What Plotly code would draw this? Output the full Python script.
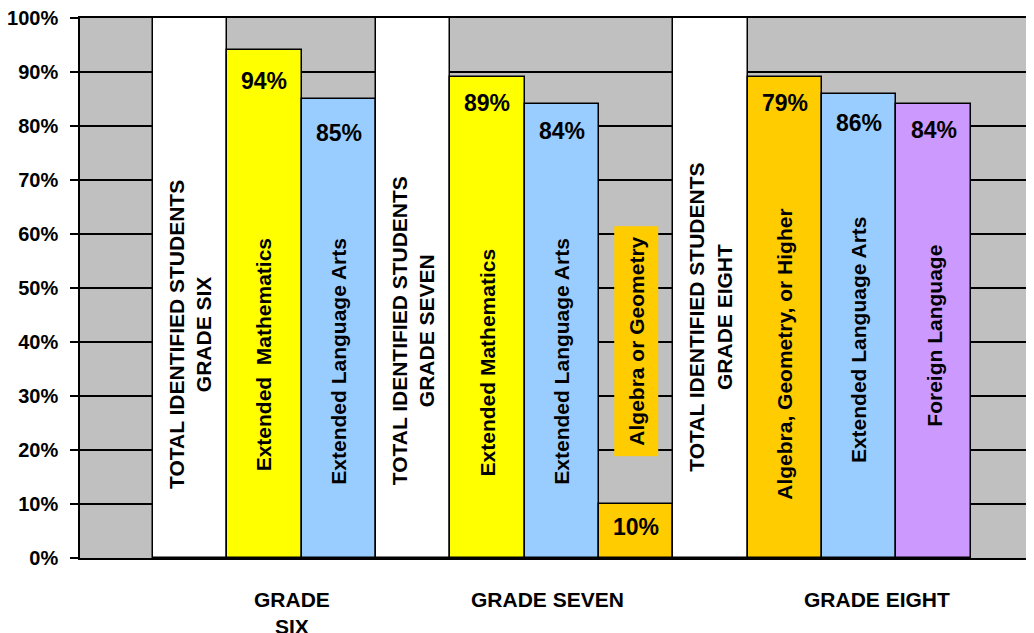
import plotly.graph_objects as go

# ---- data ----
bar_names = [
    "TOTAL IDENTIFIED STUDENTS<br>GRADE SIX",
    "Extended  Mathematics",
    "Extended Language Arts",
    "TOTAL IDENTIFIED STUDENTS<br>GRADE SEVEN",
    "Extended Mathematics",
    "Extended Language Arts",
    "Algebra or Geometry",
    "TOTAL IDENTIFIED STUDENTS<br>GRADE EIGHT",
    "Algebra, Geometry, or Higher",
    "Extended Language Arts",
    "Foreign Language",
]
bar_values = [100, 94, 85, 100, 89, 84, 10, 100, 89, 86, 84]
value_labels = ["", "94%", "85%", "", "89%", "84%", "10%", "", "79%", "86%", "84%"]
grade_labels = ["GRADE<br>SIX", "GRADE SEVEN", "GRADE EIGHT"]
y_ticks = [0, 10, 20, 30, 40, 50, 60, 70, 80, 90, 100]
y_tick_text = ["0%", "10%", "20%", "30%", "40%", "50%", "60%", "70%", "80%", "90%", "100%"]

# ---- style ----
bar_colors = ["#FFFFFF", "#FFFF00", "#99CCFF", "#FFFFFF", "#FFFF00", "#99CCFF",
              "#FFCC00", "#FFFFFF", "#FFCC00", "#99CCFF", "#CC99FF"]
name_y = [41.3, 37.6, 36.5, 42.0, 36.3, 36.5, 40.1, 44.6, 37.8, 40.4, 41.1]
label_shift = [0, -31, -34, 0, -26, -27, -23, 0, -26, -29, -26]
grade_x = [2.37, 5.81, 10.24]
FONT = "Liberation Sans, Arial, sans-serif"

xs = list(range(1, len(bar_values) + 1))

fig = go.Figure()
fig.add_trace(go.Bar(
    x=xs, y=bar_values, width=1,
    marker=dict(color=bar_colors, line=dict(color="black", width=1.5)),
    hoverinfo="skip", showlegend=False,
))

annotations = []
for i, (x, name) in enumerate(zip(xs, bar_names)):
    ann = dict(x=x, y=name_y[i], xref="x", yref="y", text=name, showarrow=False,
               textangle=-90, xanchor="center", yanchor="middle", align="center",
               font=dict(family=FONT, size=21, color="black", weight="bold"))
    if bar_values[i] < name_y[i]:
        ann["bgcolor"] = bar_colors[i]
        ann["borderpad"] = 10
    annotations.append(ann)
    if value_labels[i]:
        annotations.append(dict(x=x, y=bar_values[i], xref="x", yref="y",
                                text=value_labels[i], showarrow=False,
                                xanchor="center", yanchor="middle", yshift=label_shift[i],
                                font=dict(family=FONT, size=23, color="black", weight="bold")))
for gx, gl in zip(grade_x, grade_labels):
    annotations.append(dict(x=gx, y=0, xref="x", yref="y", text=gl, showarrow=False,
                            xanchor="center", yanchor="top", yshift=-28,
                            font=dict(family=FONT, size=21, color="black", weight="bold")))

fig.update_layout(
    width=1026, height=625,
    margin=dict(l=72, r=0, t=10, b=75),
    paper_bgcolor="white", plot_bgcolor="#C0C0C0",
    bargap=0, showlegend=False,
    annotations=annotations,
    shapes=[
        dict(type="line", xref="paper", yref="y", x0=0, x1=0, y0=0, y1=-1.4,
             line=dict(color="black", width=1.5)),
    ],
    xaxis=dict(range=[-0.48, 12.35], showticklabels=False, showgrid=False,
               zeroline=False, showline=True, mirror=True, linecolor="black",
               linewidth=1.5, ticks=""),
    yaxis=dict(range=[0, 100], tickvals=y_ticks, ticktext=y_tick_text,
               showgrid=True, gridcolor="black", gridwidth=1.5, zeroline=False,
               showline=True, linecolor="black", linewidth=1.5,
               ticks="outside", ticklen=8, tickwidth=1.5, tickcolor="black",
               ticklabelstandoff=8, ticklabeloverflow="allow",
               tickfont=dict(family=FONT, size=20, color="black", weight="bold")),
)

fig.write_html("out.html")
